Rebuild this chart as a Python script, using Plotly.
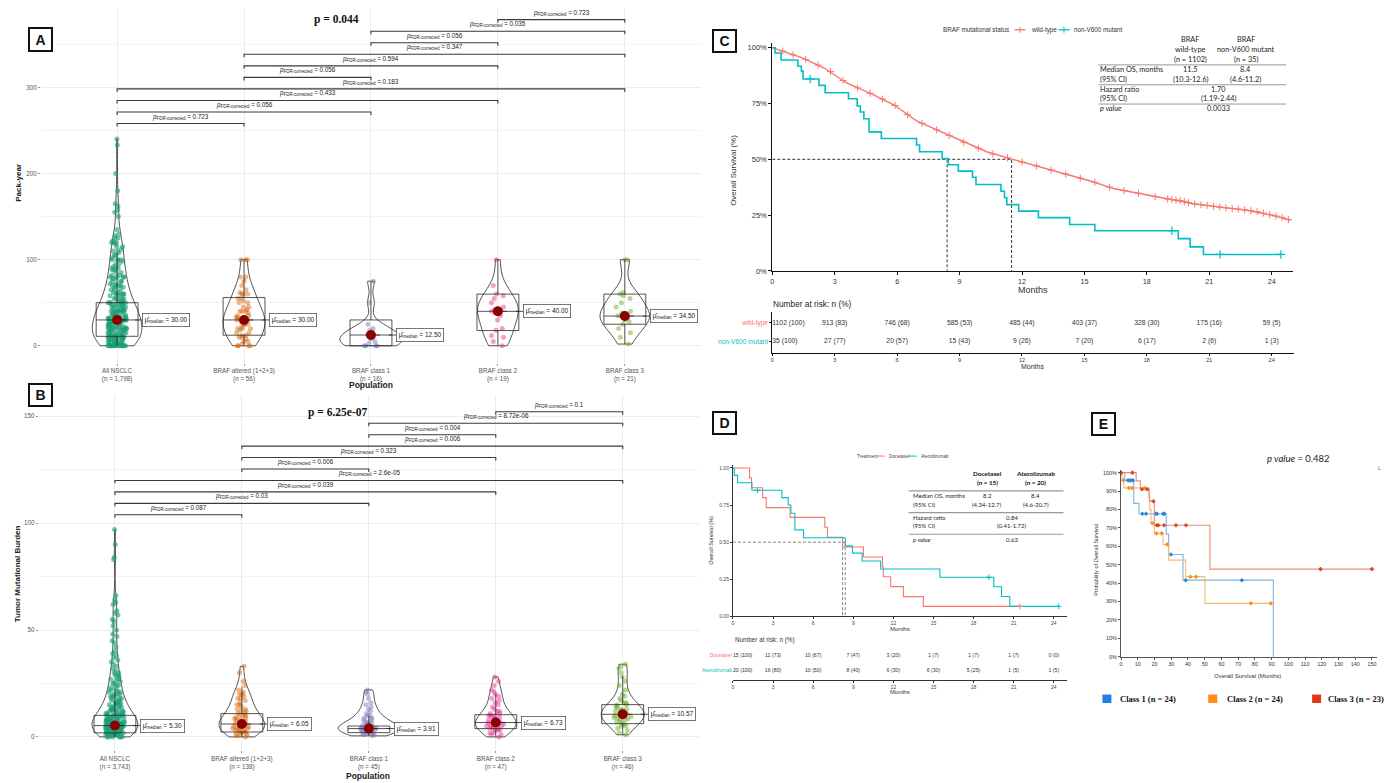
import plotly.graph_objects as go

W, H = 1391, 783


def px(v):
    return v / W


def py(v):
    return 1 - v / H


# ================= DATA =================
# ---- Panels A & B ----
groups = ["All NSCLC", "BRAF altered (1+2+3)", "BRAF class 1", "BRAF class 2", "BRAF class 3"]
n_pack = ["1,798", "56", "16", "19", "21"]
n_tmb = ["3,743", "138", "45", "47", "46"]
group_colors = ["#1B9E77", "#D95F02", "#7570B3", "#E7298A", "#66A61E"]

# All NSCLC pack-years, read as a frequency table (value, number of dots)
pack_all_vals = [0, 2, 5, 8, 10, 12, 15, 18, 20, 22, 25, 28, 30, 32, 35, 38, 40, 42, 45, 48, 50, 52, 55, 58,
                 60, 62, 65, 68, 70, 72, 75, 78, 80, 82, 85, 88, 90, 92, 95, 98, 100, 102, 105, 108, 110, 112,
                 115, 118, 120, 122, 125, 128, 130, 135, 150, 155, 158, 162, 165, 180, 200, 233, 240]
pack_all_counts = [16, 6, 9, 5, 11, 5, 9, 4, 11, 4, 9, 4, 11, 4, 8, 3, 9, 3, 7, 3, 8, 2, 5, 2,
                   5, 2, 3, 2, 4, 2, 3, 2, 4, 2, 2, 2, 3, 1, 2, 1, 4, 1, 2, 1, 2, 1,
                   2, 1, 3, 1, 2, 1, 1, 1, 1, 1, 1, 1, 1, 1, 1, 1, 1]
pack_altered = [0, 0, 0, 0, 2, 5, 5, 8, 10, 10, 12, 12, 15, 15, 18, 20, 20, 20, 22, 25, 25, 25, 28, 30, 30, 30,
                30, 30, 32, 33, 35, 35, 38, 40, 40, 40, 42, 45, 45, 50, 50, 52, 55, 55, 60, 60, 60, 62, 65, 70,
                75, 80, 80, 100, 100, 100]
pack_class1 = [0, 0, 0, 0, 3, 5, 8, 10, 12, 13, 15, 18, 20, 25, 50, 75]
pack_class2 = [0, 5, 10, 12, 18, 20, 30, 35, 38, 40, 40, 42, 45, 50, 55, 58, 60, 70, 100]
pack_class3 = [2, 10, 15, 20, 25, 28, 30, 32, 34.5, 35, 35, 38, 40, 45, 50, 55, 58, 60, 62, 100, 100]
pack_q1 = [11, 12.3, 0, 17.7, 25]
pack_median = [30.00, 30.00, 12.50, 40.00, 34.50]
pack_q3 = [50, 56, 30, 60, 60]
pack_lo = [0, 0, 0, 0, 2]
pack_hi = [108, 100, 75, 100, 100]

# All NSCLC TMB, read as a frequency table (value, number of dots)
tmb_all_vals = [0, 1, 2, 3, 4, 5, 6, 7, 8, 9, 10, 11, 12, 13, 14, 15, 16, 17, 18, 19, 20, 21, 22, 23, 24, 25,
                26, 27, 28, 29, 30, 31, 32, 33, 34, 35, 36, 37, 38, 39, 40, 42, 44, 45, 47, 48, 50, 52, 54,
                55, 57, 58, 59, 62, 63, 64, 66, 83, 84, 90, 97]
tmb_all_counts = [6, 9, 11, 12, 12, 11, 10, 9, 8, 7, 7, 6, 5, 5, 4, 4, 4, 3, 3, 3, 3, 3, 2, 2, 2, 2,
                  2, 2, 2, 2, 2, 1, 1, 1, 1, 1, 1, 1, 1, 1, 1, 1, 1, 1, 1, 1, 1, 1, 1,
                  1, 1, 1, 1, 1, 1, 1, 1, 1, 1, 1, 1]
tmb_altered = [0, 0.5, 1, 1, 1.5, 2, 2, 2.5, 3, 3, 3, 3.5, 4, 4, 4, 4.5, 5, 5, 5, 5.5, 6, 6, 6, 6.5, 7, 7, 7.5,
               8, 8, 8.5, 9, 9, 10, 10, 10, 11, 11, 12, 12, 13, 13, 14, 15, 15, 16, 17, 18, 18, 19, 20, 20,
               21, 22, 24, 26, 30, 33]
tmb_class1 = [0.5, 1, 1, 1.5, 2, 2, 2, 2.5, 2.5, 3, 3, 3, 3.5, 3.5, 3.9, 4, 4, 4, 4.5, 4.5, 5, 5, 5, 5.5, 6,
              6, 6.5, 7, 7, 8, 8, 9, 9, 10, 10, 11, 12, 13, 14, 15, 16, 18, 20, 21, 22]
tmb_class2 = [0, 1, 1, 2, 2, 3, 3, 3.5, 4, 4, 4, 4.5, 5, 5, 5.5, 6, 6, 6.5, 6.7, 7, 7, 7.5, 8, 8, 8.5, 9, 9,
              10, 10, 10, 11, 11, 12, 12, 13, 14, 15, 16, 17, 18, 19, 20, 21, 22, 24, 26, 28]
tmb_class3 = [1, 2, 3, 4, 5, 5, 6, 6, 7, 7, 8, 8, 8.5, 9, 9, 9.5, 10, 10, 10.5, 10.6, 11, 11, 11.5, 12, 12,
              12.5, 13, 13, 14, 14, 15, 15, 16, 16, 17, 18, 19, 20, 22, 24, 26, 28, 30, 32, 33, 34]
tmb_q1 = [1.9, 2.3, 2.0, 3.9, 6.2]
tmb_median = [5.30, 6.05, 3.91, 6.73, 10.57]
tmb_q3 = [10.1, 10.9, 5.1, 10.4, 15.1]
tmb_lo = [0, 0, 0.5, 0, 1]
tmb_hi = [22.4, 23.5, 9.7, 20, 28.5]

pairs = [(0, 1), (0, 2), (0, 3), (0, 4), (1, 2), (1, 3), (1, 4), (2, 3), (2, 4), (3, 4)]
pack_padj = ["0.723", "0.056", "0.433", "0.183", "0.056", "0.594", "0.347", "0.056", "0.035", "0.723"]
tmb_padj = ["0.087", "0.03", "0.039", "2.6e-05", "0.006", "0.323", "0.006", "0.004", "8.72e-06", "0.1"]
pack_overall_p = "p = 0.044"
tmb_overall_p = "p = 6.25e-07"

# ---- Panel C ----
wt_t = [0, 1.44, 2.5, 3.55, 4.82, 5.88, 6.93, 7.99, 9.05, 10.3, 11.55, 12.64, 13.9, 15.2, 16.45, 17.7,
        18.98, 20.25, 21.5, 22.8, 24.06, 24.9]
wt_s = [1.0, 0.954, 0.909, 0.843, 0.791, 0.742, 0.672, 0.628, 0.583, 0.534, 0.50, 0.472, 0.439, 0.405,
        0.368, 0.346, 0.323, 0.301, 0.286, 0.272, 0.249, 0.227]
wt_cens_t = [0.5, 1.0, 1.6, 2.2, 2.8, 3.4, 4.1, 4.7, 5.3, 5.9, 6.5, 7.2, 7.9, 8.5, 9.2, 9.9, 10.6, 11.3, 12.0,
             12.7, 13.4, 14.1, 14.8, 15.5, 16.2, 16.9, 17.6, 18.4, 19.0, 19.2, 19.4, 19.6, 19.8, 20.0, 20.3,
             20.6, 20.9, 21.2, 21.5, 21.8, 22.1, 22.4, 22.7, 23.0, 23.3, 23.6, 23.9, 24.2, 24.5, 24.8]
wt_cens_s = [0.985, 0.968, 0.948, 0.922, 0.893, 0.853, 0.82, 0.796, 0.77, 0.741, 0.70, 0.662, 0.632, 0.607,
             0.577, 0.55, 0.524, 0.507, 0.488, 0.47, 0.452, 0.434, 0.416, 0.397, 0.376, 0.36, 0.348, 0.333,
             0.322, 0.32, 0.318, 0.315, 0.312, 0.306, 0.30, 0.297, 0.294, 0.29, 0.286, 0.283, 0.28, 0.277,
             0.274, 0.27, 0.266, 0.259, 0.253, 0.246, 0.24, 0.23]
mut_t = [0, 0.13, 0.42, 1.23, 1.40, 1.48, 2.24, 2.54, 3.66, 4.08, 4.23, 4.40, 4.65, 5.24, 6.93, 7.08, 8.16,
         8.46, 8.94, 9.62, 9.79, 10.99, 11.16, 11.27, 11.84, 12.79, 14.29, 15.50, 19.51, 20.08, 20.72, 24.44]
mut_s = [1.0, 0.976, 0.945, 0.917, 0.895, 0.860, 0.831, 0.798, 0.771, 0.739, 0.712, 0.682, 0.623, 0.593,
         0.564, 0.534, 0.504, 0.476, 0.447, 0.42, 0.387, 0.357, 0.328, 0.297, 0.268, 0.239, 0.208, 0.18,
         0.145, 0.108, 0.074, 0.074]
mut_cens_t = [1.82, 19.2, 21.52, 24.44]
mut_cens_s = [0.86, 0.18, 0.074, 0.074]
c_medians = [11.5, 8.4]
risk_months = [0, 3, 6, 9, 12, 15, 18, 21, 24]
wt_risk_n = [1102, 913, 746, 585, 485, 403, 328, 175, 59]
wt_risk_pct = [100, 83, 68, 53, 44, 37, 30, 16, 5]
mut_risk_n = [35, 27, 20, 15, 9, 7, 6, 2, 1]
mut_risk_pct = [100, 77, 57, 43, 26, 20, 17, 6, 3]
c_col_heads = [["BRAF", "wild-type", "(n = 1102)"], ["BRAF", "non-V600 mutant", "(n = 35)"]]
c_median_os = ["11.5", "8.4"]
c_median_ci = ["(10.3-12.6)", "(4.6-11.2)"]
c_hr = "1.70"
c_hr_ci = "(1.19-2.44)"
c_p = "0.0033"

# ---- Panel D ----
doc_t = [0, 1.24, 1.39, 2.22, 2.49, 4.28, 6.87, 7.07, 8.2, 9.76, 11.18, 11.25, 11.8, 12.75, 14.24, 21.46]
doc_s = [1.0, 0.933, 0.867, 0.80, 0.733, 0.667, 0.60, 0.533, 0.467, 0.40, 0.333, 0.267, 0.20, 0.133,
         0.067, 0.067]
doc_cens_t = [21.46]
doc_cens_s = [0.067]
ate_t = [0, 0.1, 0.35, 1.42, 3.66, 4.13, 4.33, 4.63, 5.28, 8.4, 8.94, 9.66, 11.05, 15.48, 19.51, 20.09,
         20.71, 24.37]
ate_s = [1.0, 0.95, 0.90, 0.85, 0.80, 0.75, 0.695, 0.583, 0.53, 0.475, 0.426, 0.373, 0.319, 0.263, 0.199,
         0.134, 0.067, 0.067]
ate_cens_t = [1.84, 19.14, 24.37]
ate_cens_s = [0.85, 0.263, 0.067]
d_medians = [8.2, 8.4]
doc_risk_n = [15, 11, 10, 7, 3, 1, 1, 1, 0]
doc_risk_pct = [100, 73, 67, 47, 20, 7, 7, 7, 0]
ate_risk_n = [20, 16, 10, 8, 6, 6, 5, 1, 1]
ate_risk_pct = [100, 80, 50, 40, 30, 30, 25, 5, 5]
d_col_heads = [["Docetaxel", "(n = 15)"], ["Atezolizumab", "(n = 20)"]]
d_median_os = ["8.2", "8.4"]
d_median_ci = ["(4.34-12.7)", "(4.6-20.7)"]
d_hr = "0.84"
d_hr_ci = "(0.41-1.72)"
d_p = "0.63"

# ---- Panel E ----
e_names = ["Class 1 (n = 24)", "Class 2 (n = 24)", "Class 3 (n = 23)"]
e_t = [[0, 2.2, 7.6, 10.7, 27.0, 28.4, 37.0, 91.0],
       [0, 0.6, 1.6, 16.5, 17.1, 17.9, 19.9, 25.1, 28.4, 38.6, 50.1, 89.5],
       [0, 9.0, 11.5, 16.9, 19.9, 53.1, 150]]
e_s = [[1.0, 0.958, 0.833, 0.777, 0.666, 0.555, 0.416, 0.0],
       [1.0, 0.958, 0.917, 0.87, 0.80, 0.725, 0.67, 0.61, 0.525, 0.435, 0.29, 0.29],
       [1.0, 0.955, 0.91, 0.845, 0.714, 0.476, 0.476]]
e_cens_t = [[4.2, 5.6, 7.0, 12.7, 14.9, 20.5, 21.5, 25.1, 25.9, 29.8, 38.6, 72.2],
            [1.4, 4.6, 6.6, 14.1, 18.7, 21.1, 24.3, 27.5, 41.4, 44.8, 77.6, 89.5],
            [0, 6.8, 12.5, 15.5, 19.3, 21.3, 22.3, 25.7, 32.8, 38.8, 119.2, 150]]
e_cens_s = [[0.958, 0.958, 0.958, 0.777, 0.777, 0.777, 0.777, 0.777, 0.777, 0.555, 0.416, 0.416],
            [0.958, 0.917, 0.917, 0.917, 0.725, 0.67, 0.67, 0.61, 0.435, 0.435, 0.29, 0.29],
            [1.0, 1.0, 0.91, 0.91, 0.845, 0.714, 0.714, 0.714, 0.714, 0.714, 0.476, 0.476]]
e_p = "0.482"

# expand the frequency tables
pack_all = [v for v, c in zip(pack_all_vals, pack_all_counts) for _ in range(c)]
tmb_all = [v for v, c in zip(tmb_all_vals, tmb_all_counts) for _ in range(c)]

# ================= STYLE =================
SANS = "Liberation Sans"
SERIF = "Liberation Serif"
CAL = "Lato"
E_LINE = ["#7FB2E6", "#F8B878", "#EE8C78"]
E_MARK = ["#2B83DC", "#F7921E", "#E0441E"]
E_KEY = ["#1F7FE0", "#FF8A1A", "#DD3A17"]
KM_RED = "#F8766D"
KM_CYAN = "#00BFC4"
POINT_ALPHA = [0.6, 0.45, 0.45, 0.45, 0.45]


def rgba(hexc, a):
    h = hexc.lstrip("#")
    return "rgba(%d,%d,%d,%.2f)" % (int(h[0:2], 16), int(h[2:4], 16), int(h[4:6], 16), a)


traces = []
ann = []
shapes = []


def between_panel(xa, ya, values, q1, med, q3, lo, hi, vwidths, padj, lvl0, step, tick):
    for k in range(5):
        v = values[k]
        traces.append(go.Violin(x=[k] * len(v), y=v, xaxis=xa, yaxis=ya, width=vwidths[k],
                                scalemode="width", spanmode="hard", points=False,
                                line=dict(color="#2a2a2a", width=0.8), fillcolor="rgba(0,0,0,0)",
                                hoverinfo="skip", showlegend=False))
        traces.append(go.Box(x=[k] * len(v), y=v, xaxis=xa, yaxis=ya, boxpoints="all", jitter=0.45,
                             pointpos=0, width=0.33,
                             marker=dict(color=rgba(group_colors[k], POINT_ALPHA[k]), size=5,
                                         line=dict(width=0)),
                             line=dict(color="rgba(0,0,0,0)", width=0), fillcolor="rgba(0,0,0,0)",
                             hoverinfo="skip", showlegend=False))
        traces.append(go.Box(x=[k], q1=[q1[k]], median=[med[k]], q3=[q3[k]], lowerfence=[lo[k]],
                             upperfence=[hi[k]], xaxis=xa, yaxis=ya, width=0.33, whiskerwidth=0,
                             boxpoints=False, line=dict(color="#2a2a2a", width=0.8),
                             fillcolor="rgba(0,0,0,0)", hoverinfo="skip", showlegend=False))
        traces.append(go.Scatter(x=[k, k + 0.2], y=[med[k], med[k]], xaxis=xa, yaxis=ya, mode="lines",
                                 line=dict(color="#222", width=0.8, dash="dash"), hoverinfo="skip",
                                 showlegend=False))
        ann.append(dict(x=k + 0.2, y=med[k], xref=xa, yref=ya, xanchor="left", yanchor="middle",
                        text="\u03bc\u0302<sub>median</sub> = %.2f" % med[k], showarrow=False,
                        font=dict(family=SANS, size=6.5, color="#222"), bgcolor="white",
                        bordercolor="#555", borderwidth=0.8, borderpad=2))
    traces.append(go.Scatter(x=list(range(5)), y=med, xaxis=xa, yaxis=ya, mode="markers",
                             marker=dict(color="#8B0000", size=10), hoverinfo="skip", showlegend=False))
    for i, (a, b) in enumerate(pairs):
        lvl = lvl0 + step * i
        traces.append(go.Scatter(x=[a, a, b, b], y=[lvl - tick, lvl, lvl, lvl - tick], xaxis=xa, yaxis=ya,
                                 mode="lines", line=dict(color="#3a3a3a", width=1.1), hoverinfo="skip",
                                 showlegend=False))
        ann.append(dict(x=(a + b) / 2, y=lvl, xref=xa, yref=ya, yanchor="bottom", yshift=1,
                        text="<i>p</i><sub>FDR-corrected</sub> = " + padj[i], showarrow=False,
                        font=dict(family=SANS, size=6.3, color="#222")))


between_panel("x", "y", [pack_all, pack_altered, pack_class1, pack_class2, pack_class3], pack_q1,
              pack_median, pack_q3, pack_lo, pack_hi, [0.39, 0.33, 0.49, 0.32, 0.39], pack_padj, 258, 13.4,
              3.5)
between_panel("x2", "y2", [tmb_all, tmb_altered, tmb_class1, tmb_class2, tmb_class3], tmb_q1,
              tmb_median, tmb_q3, tmb_lo, tmb_hi, [0.36, 0.36, 0.48, 0.32, 0.34], tmb_padj, 103.9, 5.35,
              1.4)

MDASH = "3px,2px"
# ---- Panel C traces ----
traces.append(go.Scatter(x=[0, c_medians[0], c_medians[0]], y=[0.5, 0.5, 0], xaxis="x3", yaxis="y3",
                         mode="lines", line=dict(color="#333", width=1, dash=MDASH), showlegend=False))
traces.append(go.Scatter(x=[c_medians[1], c_medians[1]], y=[0.5, 0], xaxis="x3", yaxis="y3",
                         mode="lines", line=dict(color="#333", width=1, dash=MDASH), showlegend=False))
traces.append(go.Scatter(x=wt_t, y=wt_s, xaxis="x3", yaxis="y3", mode="lines",
                         line=dict(color=KM_RED, width=1.4), showlegend=False))
traces.append(go.Scatter(x=wt_cens_t, y=wt_cens_s, xaxis="x3", yaxis="y3", mode="markers",
                         marker=dict(symbol="cross-thin", size=5, line=dict(color=KM_RED, width=1)),
                         showlegend=False, cliponaxis=False))
traces.append(go.Scatter(x=mut_t, y=mut_s, xaxis="x3", yaxis="y3", mode="lines", line_shape="hv",
                         line=dict(color=KM_CYAN, width=1.6), showlegend=False))
traces.append(go.Scatter(x=mut_cens_t, y=mut_cens_s, xaxis="x3", yaxis="y3", mode="markers",
                         marker=dict(symbol="cross-thin", size=6, line=dict(color=KM_CYAN, width=1.2)),
                         showlegend=False, cliponaxis=False))
pos_c = ["middle right"] + ["middle center"] * 8
traces.append(go.Scatter(x=risk_months, y=[1] * 9, xaxis="x4", yaxis="y4", mode="text",
                         text=["%d (%d)" % (n, p) for n, p in zip(wt_risk_n, wt_risk_pct)],
                         textposition=pos_c, textfont=dict(family=SANS, size=6.8, color="#333"),
                         showlegend=False, cliponaxis=False))
traces.append(go.Scatter(x=risk_months, y=[0] * 9, xaxis="x4", yaxis="y4", mode="text",
                         text=["%d (%d)" % (n, p) for n, p in zip(mut_risk_n, mut_risk_pct)],
                         textposition=pos_c, textfont=dict(family=SANS, size=6.8, color="#333"),
                         showlegend=False, cliponaxis=False))

# ---- Panel D traces ----
traces.append(go.Scatter(x=[0, d_medians[1]], y=[0.5, 0.5], xaxis="x5", yaxis="y5", mode="lines",
                         line=dict(color="#666", width=0.8, dash=MDASH), showlegend=False))
for m in d_medians:
    traces.append(go.Scatter(x=[m, m], y=[0.5, 0], xaxis="x5", yaxis="y5", mode="lines",
                             line=dict(color="#666", width=0.8, dash=MDASH), showlegend=False))
traces.append(go.Scatter(x=doc_t, y=doc_s, xaxis="x5", yaxis="y5", mode="lines", line_shape="hv",
                         line=dict(color=KM_RED, width=1.1), showlegend=False))
traces.append(go.Scatter(x=ate_t, y=ate_s, xaxis="x5", yaxis="y5", mode="lines", line_shape="hv",
                         line=dict(color=KM_CYAN, width=1.1), showlegend=False))
traces.append(go.Scatter(x=doc_cens_t, y=doc_cens_s, xaxis="x5", yaxis="y5", mode="markers",
                         marker=dict(symbol="cross-thin", size=4, line=dict(color=KM_RED, width=1)),
                         showlegend=False, cliponaxis=False))
traces.append(go.Scatter(x=ate_cens_t, y=ate_cens_s, xaxis="x5", yaxis="y5", mode="markers",
                         marker=dict(symbol="cross-thin", size=4, line=dict(color=KM_CYAN, width=1)),
                         showlegend=False, cliponaxis=False))
traces.append(go.Scatter(x=risk_months, y=[1] * 9, xaxis="x6", yaxis="y6", mode="text",
                         text=["%d (%d)" % (n, p) for n, p in zip(doc_risk_n, doc_risk_pct)],
                         textposition=pos_c, textfont=dict(family=SANS, size=5.2, color="#333"),
                         showlegend=False, cliponaxis=False))
traces.append(go.Scatter(x=risk_months, y=[0] * 9, xaxis="x6", yaxis="y6", mode="text",
                         text=["%d (%d)" % (n, p) for n, p in zip(ate_risk_n, ate_risk_pct)],
                         textposition=pos_c, textfont=dict(family=SANS, size=5.2, color="#333"),
                         showlegend=False, cliponaxis=False))

# ---- Panel E traces ----
for k in range(3):
    traces.append(go.Scatter(x=e_t[k], y=e_s[k], xaxis="x7", yaxis="y7", mode="lines", line_shape="hv",
                             line=dict(color=E_LINE[k], width=1.1), showlegend=False))
    traces.append(go.Scatter(x=e_cens_t[k], y=e_cens_s[k], xaxis="x7", yaxis="y7", mode="markers",
                             marker=dict(symbol="diamond", size=3.5, color=E_MARK[k]),
                             showlegend=False, cliponaxis=False))

fig = go.Figure(traces)

# ================= AXES =================
grid = "#ECECEC"
tickgrey = "#555555"
ab_x_common = dict(range=[-0.6, 4.6], tickvals=list(range(5)), showgrid=True, gridcolor=grid,
                   gridwidth=0.8, zeroline=False, ticks="outside", ticklen=2, tickcolor="#999",
                   tickfont=dict(family=SANS, size=6.3, color=tickgrey), fixedrange=True)
fig.update_layout(
    xaxis=dict(domain=[px(39), px(700)], anchor="y",
               ticktext=["%s<br>(n = %s)" % (g, n) for g, n in zip(groups, n_pack)], **ab_x_common),
    yaxis=dict(domain=[py(365), py(8)], anchor="x", range=[-19.6, 392.2], tickvals=[0, 100, 200, 300],
               showgrid=True, gridcolor=grid, zeroline=False, ticks="outside", ticklen=2, tickcolor="#999",
               tickfont=dict(family=SANS, size=6.3, color=tickgrey),
               minor=dict(tickvals=[50, 150, 250, 350], showgrid=True, gridcolor="#F4F4F4", ticks="")),
    xaxis2=dict(domain=[px(36.8), px(697.9)], anchor="y2",
                ticktext=["%s<br>(n = %s)" % (g, n) for g, n in zip(groups, n_tmb)], **ab_x_common),
    yaxis2=dict(domain=[py(755), py(398)], anchor="x2", range=[-6.2, 159.7], tickvals=[0, 50, 100, 150],
                showgrid=True, gridcolor=grid, zeroline=False, ticks="outside", ticklen=2, tickcolor="#999",
                tickfont=dict(family=SANS, size=6.3, color=tickgrey),
                minor=dict(tickvals=[25, 75, 125], showgrid=True, gridcolor="#F4F4F4", ticks="")),
    # Panel C
    xaxis3=dict(domain=[px(771.4), px(1292.8)], anchor="y3", range=[0, 25.02], tickvals=risk_months,
                showline=True, linecolor="#111", linewidth=1, ticks="outside", ticklen=3, tickcolor="#111",
                showgrid=False, zeroline=False, tickfont=dict(family=SANS, size=7.2, color="#333")),
    yaxis3=dict(domain=[py(272.7), py(43.5)], anchor="x3", range=[0, 1.02],
                tickvals=[0, 0.25, 0.5, 0.75, 1], ticktext=["0%", "25%", "50%", "75%", "100%"],
                showline=True, linecolor="#111", linewidth=1, ticks="outside", ticklen=3, tickcolor="#111",
                showgrid=False, zeroline=False, tickfont=dict(family=SANS, size=7.5, color="#333")),
    xaxis4=dict(domain=[px(771.4), px(1294)], anchor="y4", range=[0, 25.08], tickvals=risk_months,
                showline=True, linecolor="#111", linewidth=1, ticks="outside", ticklen=2, tickcolor="#111",
                showgrid=False, zeroline=False, tickfont=dict(family=SANS, size=5.5, color="#333")),
    yaxis4=dict(domain=[py(354.9), py(313.8)], anchor="x4", range=[-0.6, 1.6], tickvals=[0, 1],
                ticktext=['<span style="color:%s">non-V600 mutant</span>' % KM_CYAN,
                          '<span style="color:%s">wild-type</span>' % KM_RED],
                showline=True, linecolor="#111", linewidth=1, ticks="outside", ticklen=2, tickcolor="#111",
                showgrid=False, zeroline=False, tickfont=dict(family=SANS, size=6.5)),
    # Panel D
    xaxis5=dict(domain=[px(732), px(1066.7)], anchor="y5", range=[0, 25], tickvals=risk_months,
                showline=True, linecolor="#333", linewidth=1, ticks="outside", ticklen=2, tickcolor="#333",
                showgrid=False, zeroline=False, tickfont=dict(family=SANS, size=5, color="#444")),
    yaxis5=dict(domain=[py(620.3), py(468)], anchor="x5", range=[0, 1.02],
                tickvals=[0, 0.25, 0.5, 0.75, 1], ticktext=["0.00", "0.25", "0.50", "0.75", "1.00"],
                showline=True, linecolor="#333", linewidth=1, ticks="outside", ticklen=2, tickcolor="#333",
                showgrid=False, zeroline=False, tickfont=dict(family=SANS, size=5, color="#444")),
    xaxis6=dict(domain=[px(732), px(1066.7)], anchor="y6", range=[0, 25], tickvals=risk_months,
                showline=True, linecolor="#333", linewidth=1, ticks="outside", ticklen=2, tickcolor="#333",
                showgrid=False, zeroline=False, tickfont=dict(family=SANS, size=5, color="#444")),
    yaxis6=dict(domain=[py(684.2), py(650.5)], anchor="x6", range=[-0.6, 1.6], tickvals=[0, 1],
                ticktext=['<span style="color:%s">Atezolizumab</span>' % KM_CYAN,
                          '<span style="color:%s">Docetaxel</span>' % KM_RED],
                showline=False, ticks="", showgrid=False, zeroline=False,
                tickfont=dict(family=SANS, size=5)),
    # Panel E
    xaxis7=dict(domain=[px(1120.7), px(1377)], anchor="y7", range=[0, 153], tickvals=list(range(0, 151, 10)),
                showline=True, linecolor="#555", linewidth=1, ticks="outside", ticklen=2, tickcolor="#555",
                showgrid=False, zeroline=False, tickfont=dict(family=SANS, size=5.5, color="#333")),
    yaxis7=dict(domain=[py(661), py(472.7)], anchor="x7", range=[0, 1.016],
                tickvals=[i / 10 for i in range(11)], ticktext=["%d%%" % (i * 10) for i in range(11)],
                showline=True, linecolor="#555", linewidth=1, ticks="outside", ticklen=2, tickcolor="#555",
                showgrid=False, zeroline=False, tickfont=dict(family=SANS, size=5.5, color="#333")),
)


# ================= ANNOTATIONS =================
def a(x, y, text, size, family=SANS, color="#222", xanchor="center", yanchor="middle", angle=0):
    ann.append(dict(x=px(x), y=py(y), xref="paper", yref="paper", text=text, showarrow=False,
                    font=dict(family=family, size=size, color=color), xanchor=xanchor, yanchor=yanchor,
                    textangle=angle))


def label_box(letter, x0, y0, x1, y1):
    ann.append(dict(x=px((x0 + x1) / 2), y=py((y0 + y1) / 2), xref="paper", yref="paper",
                    text="<b>%s</b>" % letter, showarrow=False, font=dict(family=SANS, size=14, color="#111"),
                    width=x1 - x0 - 4, height=y1 - y0 - 4, bordercolor="#111", borderwidth=2, borderpad=0,
                    bgcolor="white"))


def hline(x0, x1, y, color="#888", width=1):
    shapes.append(dict(type="line", xref="paper", yref="paper", x0=px(x0), x1=px(x1), y0=py(y), y1=py(y),
                       line=dict(color=color, width=width)))


label_box("A", 14, 15, 39, 40)
label_box("B", 14, 386, 39, 410)
label_box("C", 711, 17, 736, 41)
label_box("D", 711, 414, 736, 438)
label_box("E", 1103, 415, 1128, 439)

# A / B titles
a(335, 20, "<b>%s</b>" % pack_overall_p, 11.5, family=SERIF, color="#111")
a(336, 415, "<b>%s</b>" % tmb_overall_p, 11.5, family=SERIF, color="#111")
a(17, 184, "<b>Pack-year</b>", 8, angle=-90, color="#222")
a(15, 577, "<b>Tumor Mutational Burden</b>", 8, angle=-90, color="#222")
a(369.6, 387.5, "<b>Population</b>", 8.5, color="#222")
a(367, 781, "<b>Population</b>", 8.5, color="#222")

# C legend
a(940, 30, "BRAF mutational status", 6.3, xanchor="left", color="#333")
shapes.append(dict(type="line", xref="paper", yref="paper", x0=px(1014), x1=px(1025), y0=py(30), y1=py(30),
                   line=dict(color=KM_RED, width=1.3)))
shapes.append(dict(type="line", xref="paper", yref="paper", x0=px(1019.5), x1=px(1019.5), y0=py(27),
                   y1=py(33), line=dict(color=KM_RED, width=1)))
a(1028, 30, "wild-type", 6.3, xanchor="left", color="#333")
shapes.append(dict(type="line", xref="paper", yref="paper", x0=px(1058), x1=px(1069), y0=py(30), y1=py(30),
                   line=dict(color=KM_CYAN, width=1.3)))
shapes.append(dict(type="line", xref="paper", yref="paper", x0=px(1063.5), x1=px(1063.5), y0=py(27),
                   y1=py(33), line=dict(color=KM_CYAN, width=1)))
a(1072, 30, "non-V600 mutant", 6.3, xanchor="left", color="#333")

# C axis titles
a(733, 171, "Overall Survival (%)", 8, angle=-90, color="#333")
a(1032, 291.5, "Months", 9, color="#333")
a(770.5, 306, "Number at risk: n (%)", 8.3, xanchor="left", color="#222")
a(1032, 369, "Months", 7, color="#333")

# C table
for j, cx in enumerate([1190, 1245.6]):
    for r, yy in enumerate([40, 50, 60]):
        a(cx, yy, c_col_heads[j][r], 7.3, family=CAL, color="#222")
    a(cx, 70.3, c_median_os[j], 7.3, family=CAL, color="#222")
    a(cx, 80, c_median_ci[j], 7.3, family=CAL, color="#222")
for txt, yy in [("Median OS, months", 70.3), ("(95% CI)", 80), ("Hazard ratio", 90), ("(95% CI)", 99.3),
                ("<i>p value</i>", 109.3)]:
    a(1098, yy, txt, 7.3, family=CAL, xanchor="left", color="#222")
a(1218.7, 90, c_hr, 7.3, family=CAL, color="#222")
a(1218.7, 99.3, c_hr_ci, 7.3, family=CAL, color="#222")
a(1218.7, 109.3, c_p, 7.3, family=CAL, color="#222")
for yy in [65.3, 85.3, 104.7]:
    hline(1098, 1286, yy, color="#999", width=1)

# D legend
a(854, 459, "Treatment", 4.6, xanchor="left", color="#444")
shapes.append(dict(type="line", xref="paper", yref="paper", x0=px(877), x1=px(884), y0=py(459), y1=py(459),
                   line=dict(color=KM_RED, width=1)))
a(886, 459, "Docetaxel", 4.6, xanchor="left", color="#444")
shapes.append(dict(type="line", xref="paper", yref="paper", x0=px(908), x1=px(916), y0=py(459), y1=py(459),
                   line=dict(color=KM_CYAN, width=1)))
a(918, 459, "Atezolizumab", 4.6, xanchor="left", color="#444")

# D axis titles
a(709.3, 544, "Overall Survival (%)", 5.5, angle=-90, color="#333")
a(899, 633, "Months", 6, color="#333")
a(732, 644.3, "Number at risk: n (%)", 6.3, xanchor="left", color="#333")
a(899, 696, "Months", 6, color="#333")

# D table
for j, cx in enumerate([986.7, 1035]):
    a(cx, 476.3, "<b>%s</b>" % d_col_heads[j][0], 6.3, family=CAL, color="#111")
    a(cx, 485.3, "<b>%s</b>" % d_col_heads[j][1], 6.3, family=CAL, color="#111")
    a(cx, 499, d_median_os[j], 6, family=CAL, color="#222")
    a(cx, 507.7, d_median_ci[j], 6, family=CAL, color="#222")
for txt, yy in [("Median OS, months", 499), ("(95% CI)", 507.7), ("Hazard ratio", 520.7),
                ("(95% CI)", 529.3), ("<i>p value</i>", 543.3)]:
    a(910.7, yy, txt, 6, family=CAL, xanchor="left", color="#222")
a(1011, 520.7, d_hr, 6, family=CAL, color="#222")
a(1011, 529.3, d_hr_ci, 6, family=CAL, color="#222")
a(1011, 543.3, d_p, 6, family=CAL, color="#222")
for yy in [494, 516, 537.7]:
    hline(908, 1063, yy, color="#999", width=1.2)

# E texts
a(1298, 461.7, "<i>p value</i> = " + e_p, 9.5, family=CAL, color="#222")
a(1096, 563, "Probability of Overall Survival", 5.5, angle=-90, color="#333")
a(1247, 680, "Overall Survival (Months)", 6, color="#333")
a(1379, 471, "L", 5, color="#666")
for k, (sx, tx) in enumerate([(1102, 1118), (1208, 1225), (1312, 1326)]):
    shapes.append(dict(type="rect", xref="paper", yref="paper", x0=px(sx), x1=px(sx + 9), y0=py(707.5),
                       y1=py(699), fillcolor=E_KEY[k], line=dict(width=0)))
    a(tx, 703.3, "<b>%s</b>" % e_names[k], 8.5, family=SERIF, xanchor="left", color="#111")

fig.update_layout(
    width=W, height=H, margin=dict(l=0, r=0, t=0, b=0), autosize=False,
    paper_bgcolor="white", plot_bgcolor="white", showlegend=False,
    violinmode="overlay", boxmode="overlay",
    annotations=ann, shapes=shapes,
)

fig.write_html("out.html")
